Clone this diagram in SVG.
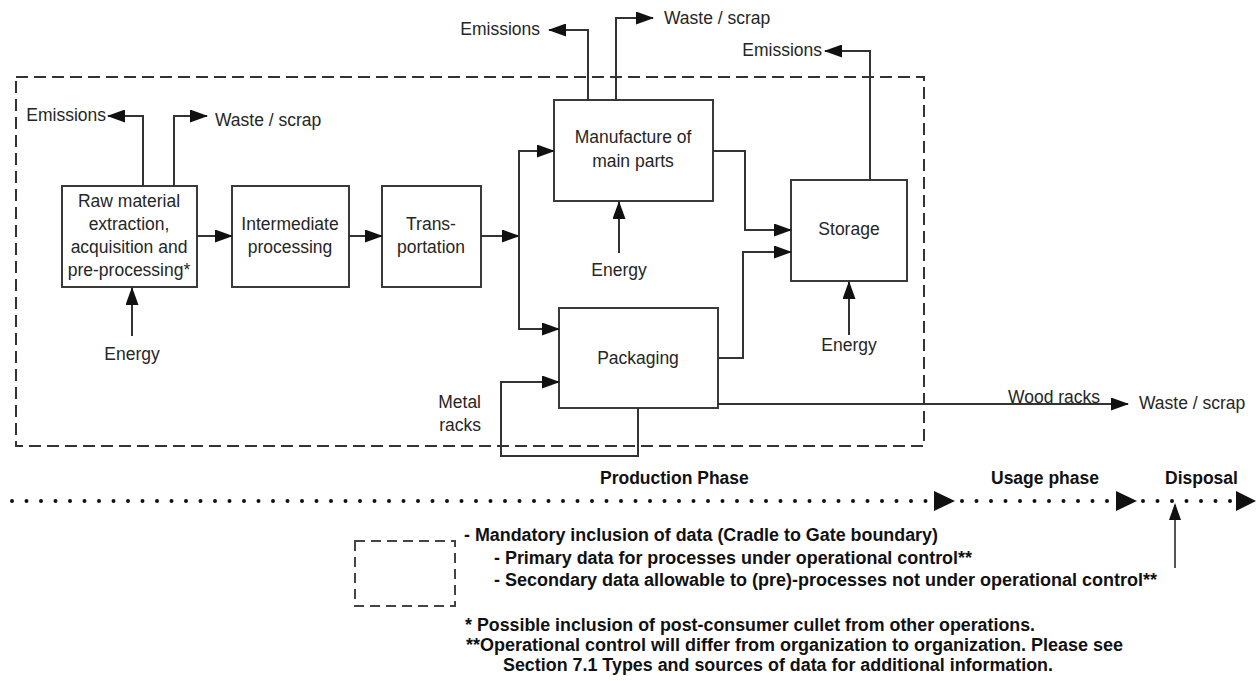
<svg xmlns="http://www.w3.org/2000/svg" width="1256" height="681" viewBox="0 0 1256 681">
<defs>
<style>
.box{fill:#fff;stroke:#3a3a3a;stroke-width:2}
.t{font-family:"Liberation Sans",Arial,sans-serif;font-size:17.5px;fill:#262626}
.c{text-anchor:middle}
.e{text-anchor:end}
.b{font-family:"Liberation Sans",Arial,sans-serif;font-size:17.5px;font-weight:bold;fill:#111}
.ln{fill:none;stroke:#333;stroke-width:2}
.dash{fill:none;stroke:#333;stroke-width:2;stroke-dasharray:12 6}
.dots{fill:none;stroke:#111;stroke-width:4;stroke-linecap:round;stroke-dasharray:0 14.5}
</style>
<marker id="ah" markerUnits="userSpaceOnUse" markerWidth="18" markerHeight="13" viewBox="0 0 18 13" refX="17" refY="6.5" orient="auto">
<path d="M0,0 L18,6.5 L0,13 z" fill="#111"/>
</marker>
<marker id="big" markerUnits="userSpaceOnUse" markerWidth="21" markerHeight="20" viewBox="0 0 21 20" refX="20" refY="10" orient="auto">
<path d="M0,0 L21,10 L0,20 z" fill="#111"/>
</marker>
</defs>
<rect width="1256" height="681" fill="#fff"/>

<g id="boundary">
<rect class="dash" x="16" y="77" width="908" height="369"/>
</g>

<g id="raw">
<rect class="box" x="62" y="186" width="135" height="101"/>
<text class="t c" x="129" y="207">Raw material</text>
<text class="t c" x="129" y="230">extraction,</text>
<text class="t c" x="129" y="253">acquisition and</text>
<text class="t c" x="129" y="276">pre-processing*</text>
</g>
<g id="intermediate">
<rect class="box" x="232" y="186" width="117" height="101"/>
<text class="t c" x="290" y="230">Intermediate</text>
<text class="t c" x="290" y="253">processing</text>
</g>
<g id="transportation">
<rect class="box" x="382" y="186" width="99" height="101"/>
<text class="t c" x="431" y="230">Trans-</text>
<text class="t c" x="431" y="253">portation</text>
</g>
<g id="manufacture">
<rect class="box" x="554" y="100" width="159" height="101"/>
<text class="t c" x="633" y="143">Manufacture of</text>
<text class="t c" x="633" y="167">main parts</text>
</g>
<g id="packaging">
<rect class="box" x="559" y="308" width="159" height="100"/>
<text class="t c" x="638" y="364">Packaging</text>
</g>
<g id="storage">
<rect class="box" x="791" y="180" width="116" height="101"/>
<text class="t c" x="849" y="235">Storage</text>
</g>

<g id="labels">
<text class="t e" x="106" y="121">Emissions</text>
<text class="t" x="215" y="126">Waste / scrap</text>
<text class="t c" x="132" y="360">Energy</text>
<text class="t e" x="540" y="35">Emissions</text>
<text class="t" x="664" y="24">Waste / scrap</text>
<text class="t c" x="619" y="276">Energy</text>
<text class="t e" x="822" y="56">Emissions</text>
<text class="t c" x="849" y="351">Energy</text>
<text class="t e" x="481" y="408">Metal</text>
<text class="t e" x="481" y="431">racks</text>
<text class="t" x="1008" y="403">Wood racks</text>
<text class="t" x="1139" y="409">Waste / scrap</text>
</g>

<g id="connectors">
<path class="ln" d="M143,186 V116 H108" marker-end="url(#ah)"/>
<path class="ln" d="M174,186 V116 H207" marker-end="url(#ah)"/>
<path class="ln" d="M132,336 V288" marker-end="url(#ah)"/>
<path class="ln" d="M197,236 H232" marker-end="url(#ah)"/>
<path class="ln" d="M349,236 H382" marker-end="url(#ah)"/>
<path class="ln" d="M481,236 H519" marker-end="url(#ah)"/>
<path class="ln" d="M519,236 V151 H554" marker-end="url(#ah)"/>
<path class="ln" d="M519,236 V329 H559" marker-end="url(#ah)"/>
<path class="ln" d="M588,100 V30 H549" marker-end="url(#ah)"/>
<path class="ln" d="M616,100 V18 H653" marker-end="url(#ah)"/>
<path class="ln" d="M619,253 V202" marker-end="url(#ah)"/>
<path class="ln" d="M713,151 H745 V230 H791" marker-end="url(#ah)"/>
<path class="ln" d="M718,358 H743 V252 H791" marker-end="url(#ah)"/>
<path class="ln" d="M870,180 V51 H825" marker-end="url(#ah)"/>
<path class="ln" d="M849,335 V282" marker-end="url(#ah)"/>
<path class="ln" d="M638,408 V456 H501 V382 H559" marker-end="url(#ah)"/>
<path class="ln" d="M718,404 H1128" marker-end="url(#ah)"/>
</g>

<g id="timeline">
<path class="dots" d="M12,501 H934"/>
<path class="dots" d="M962,501 H1116"/>
<path class="dots" d="M1143,501 H1238"/>
<path d="M934,491 L955,501 L934,511 z" fill="#111"/>
<path d="M1116,491 L1137,501 L1116,511 z" fill="#111"/>
<path d="M1236,491 L1256,501 L1236,511 z" fill="#111"/>
<path d="M1175,568 V505" fill="none" stroke="#555" stroke-width="2"/>
<path d="M1169,520 L1175,503 L1181,520 z" fill="#111"/>
<text class="b" x="600" y="484">Production Phase</text>
<text class="b" x="991" y="484">Usage phase</text>
<text class="b" x="1165" y="484">Disposal</text>
</g>

<g id="legend">
<rect class="dash" x="355" y="541" width="100" height="65" style="stroke-dasharray:10 6;stroke:#444"/>
<text class="b" x="464" y="541" textLength="474" lengthAdjust="spacingAndGlyphs">- Mandatory inclusion of data (Cradle to Gate boundary)</text>
<text class="b" x="494" y="564" textLength="478" lengthAdjust="spacingAndGlyphs">- Primary data for processes under operational control**</text>
<text class="b" x="494" y="586" textLength="663" lengthAdjust="spacingAndGlyphs">- Secondary data allowable to (pre)-processes not under operational control**</text>
<text class="b" x="465" y="631" textLength="570" lengthAdjust="spacingAndGlyphs">* Possible inclusion of post-consumer cullet from other operations.</text>
<text class="b" x="466" y="651" textLength="657" lengthAdjust="spacingAndGlyphs">**Operational control will differ from organization to organization.  Please see</text>
<text class="b" x="503" y="671" textLength="550" lengthAdjust="spacingAndGlyphs">Section 7.1 Types and sources of data for additional information.</text>
</g>
</svg>
